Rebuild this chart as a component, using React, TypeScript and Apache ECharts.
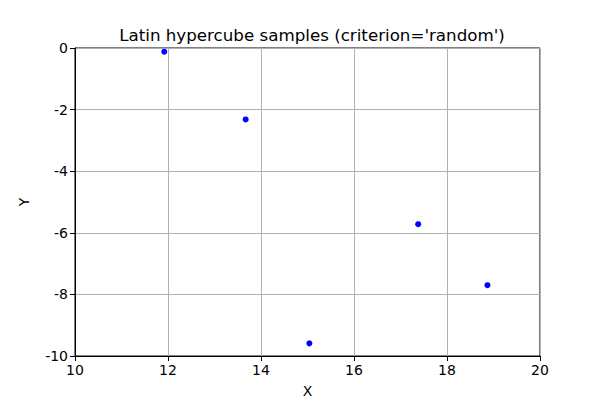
import { useEffect, useRef } from "react";
import * as echarts from "echarts";

const xs = [11.92, 13.67, 15.04, 17.38, 18.87];
const ys = [-0.12, -2.32, -9.59, -5.72, -7.7];

const font = "DejaVu Sans";

export default function App() {
  const ref = useRef<HTMLDivElement | null>(null);

  useEffect(() => {
    if (!ref.current) return;
    const chart = echarts.init(ref.current, undefined, { renderer: "svg" });

    const axisCommon = {
      axisLine: { show: true, onZero: false, lineStyle: { color: "#000", width: 1 } },
      axisTick: { show: true, inside: false, length: 5, lineStyle: { color: "#000" } },
      axisLabel: { color: "#000", fontSize: 14, fontFamily: font, margin: 7 },
      splitLine: { show: true, lineStyle: { color: "#b0b0b0", width: 1 } },
      nameTextStyle: { color: "#000", fontSize: 14, fontFamily: font },
    };

    chart.setOption({
      animation: false,
      backgroundColor: "#fff",
      title: {
        text: "Latin hypercube samples (criterion='random')",
        left: 307,
        textAlign: "center",
        top: 21,
        textStyle: { color: "#000", fontSize: 16.7, fontWeight: "normal", fontFamily: font },
      },
      grid: {
        left: 75,
        right: 60,
        top: 48,
        bottom: 44,
        show: true,
        borderColor: "#000",
        borderWidth: 1,
        outerBoundsMode: "none",
        containLabel: false,
      },
      xAxis: {
        type: "value",
        min: 10,
        max: 20,
        interval: 2,
        name: "X",
        nameLocation: "middle",
        nameGap: 28,
        ...axisCommon,
      },
      yAxis: {
        type: "value",
        min: -10,
        max: 0,
        interval: 2,
        name: "Y",
        nameLocation: "middle",
        nameGap: 44,
        ...axisCommon,
      },
      series: [
        {
          type: "scatter",
          data: xs.map((x, i) => [x, ys[i]]),
          symbol: "circle",
          symbolSize: 6,
          itemStyle: { color: "#0000ff", opacity: 1 },
        },
      ],
    });

    return () => chart.dispose();
  }, []);

  return <div ref={ref} style={{ width: 600, height: 400, position: "absolute", left: 0, top: 0 }} />;
}
